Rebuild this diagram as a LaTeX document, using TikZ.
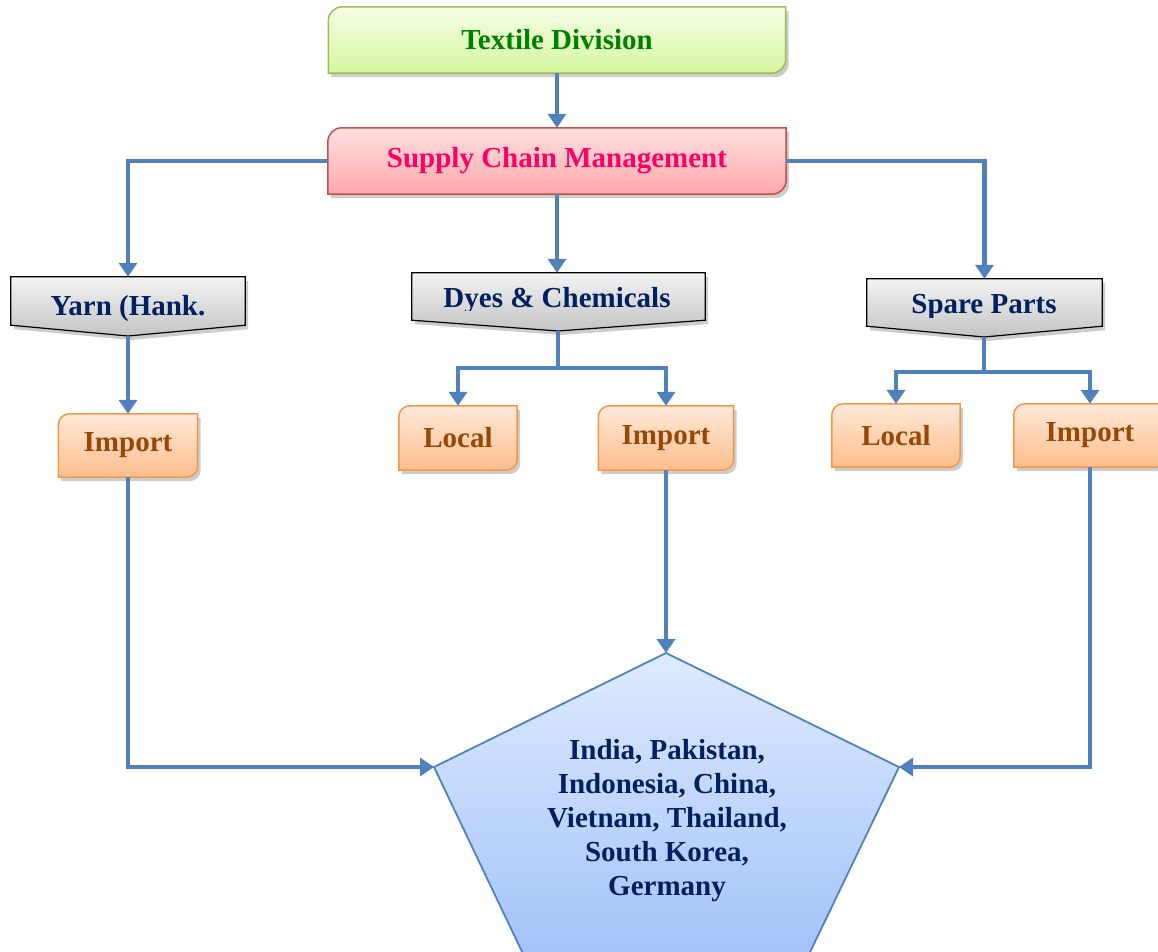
\documentclass[tikz,border=0pt]{standalone}
\usepackage{fontspec}
\setmainfont{Liberation Serif}
\usetikzlibrary{arrows.meta,shadows,backgrounds}
\definecolor{cblue}{RGB}{79,129,189}
\definecolor{gtop}{RGB}{244,254,230}\definecolor{gbot}{RGB}{214,246,160}\definecolor{gbord}{RGB}{155,187,89}\definecolor{gtext}{RGB}{0,128,0}
\definecolor{rtop}{RGB}{255,224,224}\definecolor{rbot}{RGB}{255,168,168}\definecolor{rbord}{RGB}{192,80,77}\definecolor{rtext}{RGB}{255,0,102}
\definecolor{ytop}{RGB}{243,243,243}\definecolor{ybot}{RGB}{196,196,196}
\definecolor{navy}{RGB}{0,32,96}
\definecolor{otop}{RGB}{255,233,217}\definecolor{obot}{RGB}{253,190,140}\definecolor{obord}{RGB}{247,150,70}\definecolor{otext}{RGB}{151,72,6}
\definecolor{ptop}{RGB}{222,234,254}\definecolor{pbot}{RGB}{155,189,248}
% #1 node, #2 radius (number, pt), #3 style
\newcommand\rdshape[3]{%
 \begin{pgfonlayer}{background}
 \path[#3] ([yshift=-#2pt]#1.north west)
   .. controls ([yshift=-0.45*#2pt]#1.north west) and ([xshift=0.45*#2pt]#1.north west) .. ([xshift=#2pt]#1.north west)
   -- (#1.north east) -- ([yshift=#2pt]#1.south east)
   .. controls ([yshift=0.45*#2pt]#1.south east) and ([xshift=-0.45*#2pt]#1.south east) .. ([xshift=-#2pt]#1.south east)
   -- (#1.south west) -- cycle;
 \end{pgfonlayer}}
\newcommand\tagshape[2]{%
 \begin{pgfonlayer}{background}
 \path[graybox] (#1.north west) -- (#1.north east) -- (#1.south east) -- (#2) -- (#1.south west) -- cycle;
 \end{pgfonlayer}}
\begin{document}
\begin{tikzpicture}[x=1pt,y=-1pt,
  lbl/.style={font=\fontsize{29}{34}\selectfont\bfseries, inner sep=0pt},
  cn/.style={draw=cblue, line width=4.5pt, -{Triangle[width=18pt,length=14pt]}},
  ln/.style={draw=cblue, line width=4.5pt},
  shd/.style={drop shadow={shadow xshift=3pt,shadow yshift=-4pt,opacity=0.2,fill=black}},
  greenbox/.style={shd, top color=gtop, bottom color=gbot, draw=gbord, line width=1.5pt},
  redbox/.style={shd, top color=rtop, bottom color=rbot, draw=rbord, line width=1.5pt},
  orbox/.style={shd, top color=otop, bottom color=obot, draw=obord, line width=1.5pt},
  graybox/.style={shd, top color=ytop, bottom color=ybot, draw=black, line width=1.2pt},
  obx/.style={lbl, text=otext, minimum height=63pt}]
\useasboundingbox (0,0) rectangle (1158,952);
\clip (0,0) rectangle (1158,952);

% top boxes
\node[lbl, text=gtext, minimum width=457pt, minimum height=66pt] (tex) at (557,40) {Textile Division};
\rdshape{tex}{14}{greenbox}
\node[lbl, text=rtext, minimum width=458pt, minimum height=66pt] (scm) at (557,161) {Supply Chain Management};
\rdshape{scm}{14}{redbox}

% gray tag boxes
\node[minimum width=234pt, minimum height=48pt, inner sep=0pt] (yarn) at (128,301) {};
\coordinate (yarnP) at (128,336);
\tagshape{yarn}{yarnP}
\begin{scope}
\clip (yarn.north west) rectangle (246,321);
\node[lbl, text=navy, anchor=base] (yarnT) at (128,315) {Yarn (Hank.};
\end{scope}

\node[minimum width=293pt, minimum height=47pt, inner sep=0pt] (dyes) at (558.5,296.5) {};
\coordinate (dyesP) at (558,331);
\tagshape{dyes}{dyesP}
\begin{scope}
\clip (dyes.north west) rectangle (705,310);
\node[lbl, text=navy, anchor=base] (dyesT) at (557,307) {Dyes \& Chemicals};
\end{scope}

\node[minimum width=235pt, minimum height=47pt, inner sep=0pt] (spare) at (984.5,302.5) {};
\coordinate (spareP) at (984,337);
\tagshape{spare}{spareP}
\begin{scope}
\clip (spare.north west) rectangle (1102,317);
\node[lbl, text=navy, anchor=base] (spareT) at (984,313) {Spare Parts};
\end{scope}

% orange boxes
\node[obx, minimum width=139pt] (yimp) at (128,445.5) {Import};
\rdshape{yimp}{11}{orbox}
\node[obx, minimum width=118pt, minimum height=64pt] (dloc) at (458,438) {Local};
\rdshape{dloc}{11}{orbox}
\node[obx, minimum width=135pt, minimum height=64pt] (dimp) at (666,438) {Import};
\rdshape{dimp}{11}{orbox}
\node[obx, minimum width=128pt] (sloc) at (896,435.5) {Local};
\rdshape{sloc}{11}{orbox}
\node[obx, minimum width=152pt] (simp) at (1090,435.5) {Import};
\rdshape{simp}{11}{orbox}

% pentagon
\coordinate (pentT) at (666,653);
\coordinate (pentR) at (899,767);
\coordinate (pentBR) at (787,1000);
\coordinate (pentBL) at (545,1000);
\coordinate (pentL) at (434,767);
\path[top color=ptop, bottom color=pbot, draw=cblue, line width=1.8pt] (pentT) -- (pentR) -- (pentBR) -- (pentBL) -- (pentL) -- cycle;
\node[lbl, text=navy, align=center] (pent) at (667,821) {India, Pakistan,\\Indonesia, China,\\Vietnam, Thailand,\\South Korea,\\Germany};

% connectors
\draw[cn] (tex.south) -- (tex.south |- scm.north);
\draw[cn] (scm.west) -| (yarn.north);
\draw[cn] (scm.east) -| (spare.north);
\draw[cn] (scm.south) -- (scm.south |- dyes.north);
\draw[cn] (yarnP) -- (yarnP |- yimp.north);
\coordinate (dj) at (558,368);
\draw[ln] (dyesP) -- (dj);
\draw[cn] (dj) -| (dloc.north);
\draw[cn] (dj) -| (dimp.north);
\coordinate (sj) at (984,372);
\draw[ln] (spareP) -- (sj);
\draw[cn] (sj) -| (sloc.north);
\draw[cn] (sj) -| (simp.north);
\draw[cn] (yimp.south) |- (pentL);
\draw[cn] (dimp.south) -- (dimp.south |- pentT);
\draw[cn] (simp.south) |- (pentR);
\end{tikzpicture}
\end{document}
